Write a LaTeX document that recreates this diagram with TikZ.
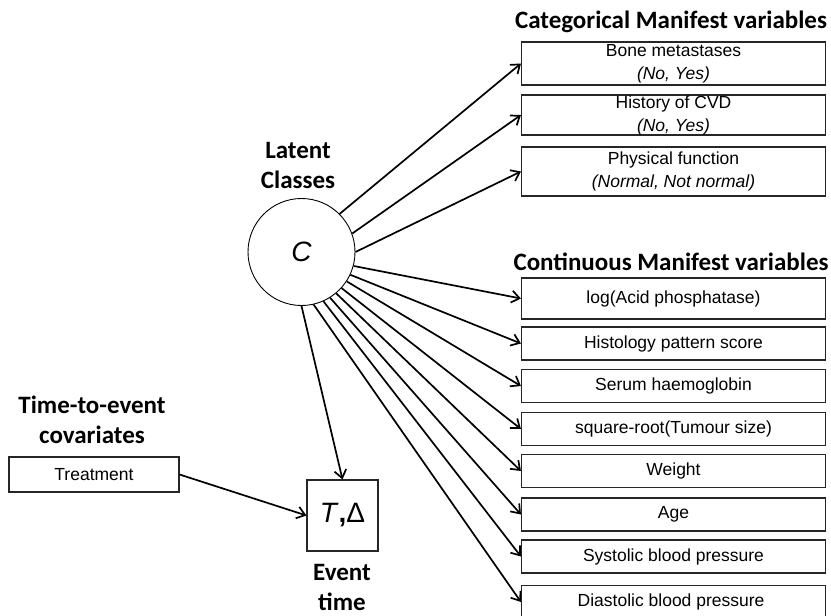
\documentclass[tikz,border=0pt]{standalone}
\usepackage{fontspec}
\setmainfont{Liberation Sans}
\newfontfamily\calibri{Carlito}
\usetikzlibrary{arrows.meta}
\tikzset{
  varbox/.style={draw=black!85, line width=1.1pt, minimum width=304pt, inner sep=0pt,
    align=center, font=\fontsize{17.5}{23}\selectfont},
  heading/.style={font=\calibri\bfseries\fontsize{25}{30}\selectfont, align=center},
  link/.style={line width=1.7pt, -{Straight Barb[length=8pt,width=12pt]}},
}
\begin{document}
\begin{tikzpicture}[x=1pt,y=-1pt]
    \useasboundingbox (0,0) rectangle (831,616);

    % Latent classes
    \node[circle, draw, line width=0.9pt, minimum size=107pt, inner sep=0pt,
      font=\itshape\fontsize{28}{28}\selectfont] (C) at (301.5,252) {C};
    \node[heading] (latent) at (298,165) {Latent\\Classes};

    % Categorical manifest variables
    \node[heading] (cattitle) at (671,22) {Categorical Manifest variables};
    \node[varbox, minimum height=43pt] (cat1) at (673.5,63.5)
        {Bone metastases\\\textit{(No, Yes)}};
    \node[varbox, minimum height=40pt] (cat2) at (673.5,115)
        {History of CVD\\\textit{(No, Yes)}};
    \node[varbox, minimum height=49pt] (cat3) at (673.5,171.5)
        {Physical function\\\textit{(Normal, Not normal)}};
    \foreach \k/\ang in {1/45, 2/20, 3/0}
        \draw[link] (C.\ang) -- (cat\k.west);

    % Continuous manifest variables
    \node[heading] (conttitle) at (671,262) {Continuous Manifest variables};
    \node[varbox, minimum height=41pt] (cont1) at (673.5,298.5) {log(Acid phosphatase)};
    \foreach \k/\yc/\txt in {
        2/343.5/Histology pattern score,
        3/386/Serum haemoglobin,
        4/429/square-root(Tumour size),
        5/471/Weight,
        6/514.5/Age,
        7/556.5/Systolic blood pressure,
        8/602/Diastolic blood pressure
        } {
        \node[varbox, minimum height=33pt] (cont\k) at (673.5,\yc) {\txt};
    }
    \foreach \k/\ang in {1/-15, 2/-25, 3/-33, 4/-42, 5/-50, 6/-58, 7/-66, 8/-77}
        \draw[link] (C.\ang) -- (cont\k.west);

    % Time-to-event part
    \node[heading] (ttetitle) at (92,420) {Time-to-event\\covariates};
    \node[varbox, minimum width=170pt, minimum height=35pt] (treat) at (94,474.5) {Treatment};
    \node[draw=black!85, line width=1.1pt, minimum size=71pt, inner sep=0pt,
      font=\fontsize{28}{28}\selectfont] (T) at (342.5,515.5) {\textit{T}\textbf{,}Δ};
    \node[heading] (eventlbl) at (342,587) {Event\\time};
    \draw[link] (C.south) -- (T.north);
    \draw[link] (treat.east) -- (T.west);
\end{tikzpicture}
\end{document}
